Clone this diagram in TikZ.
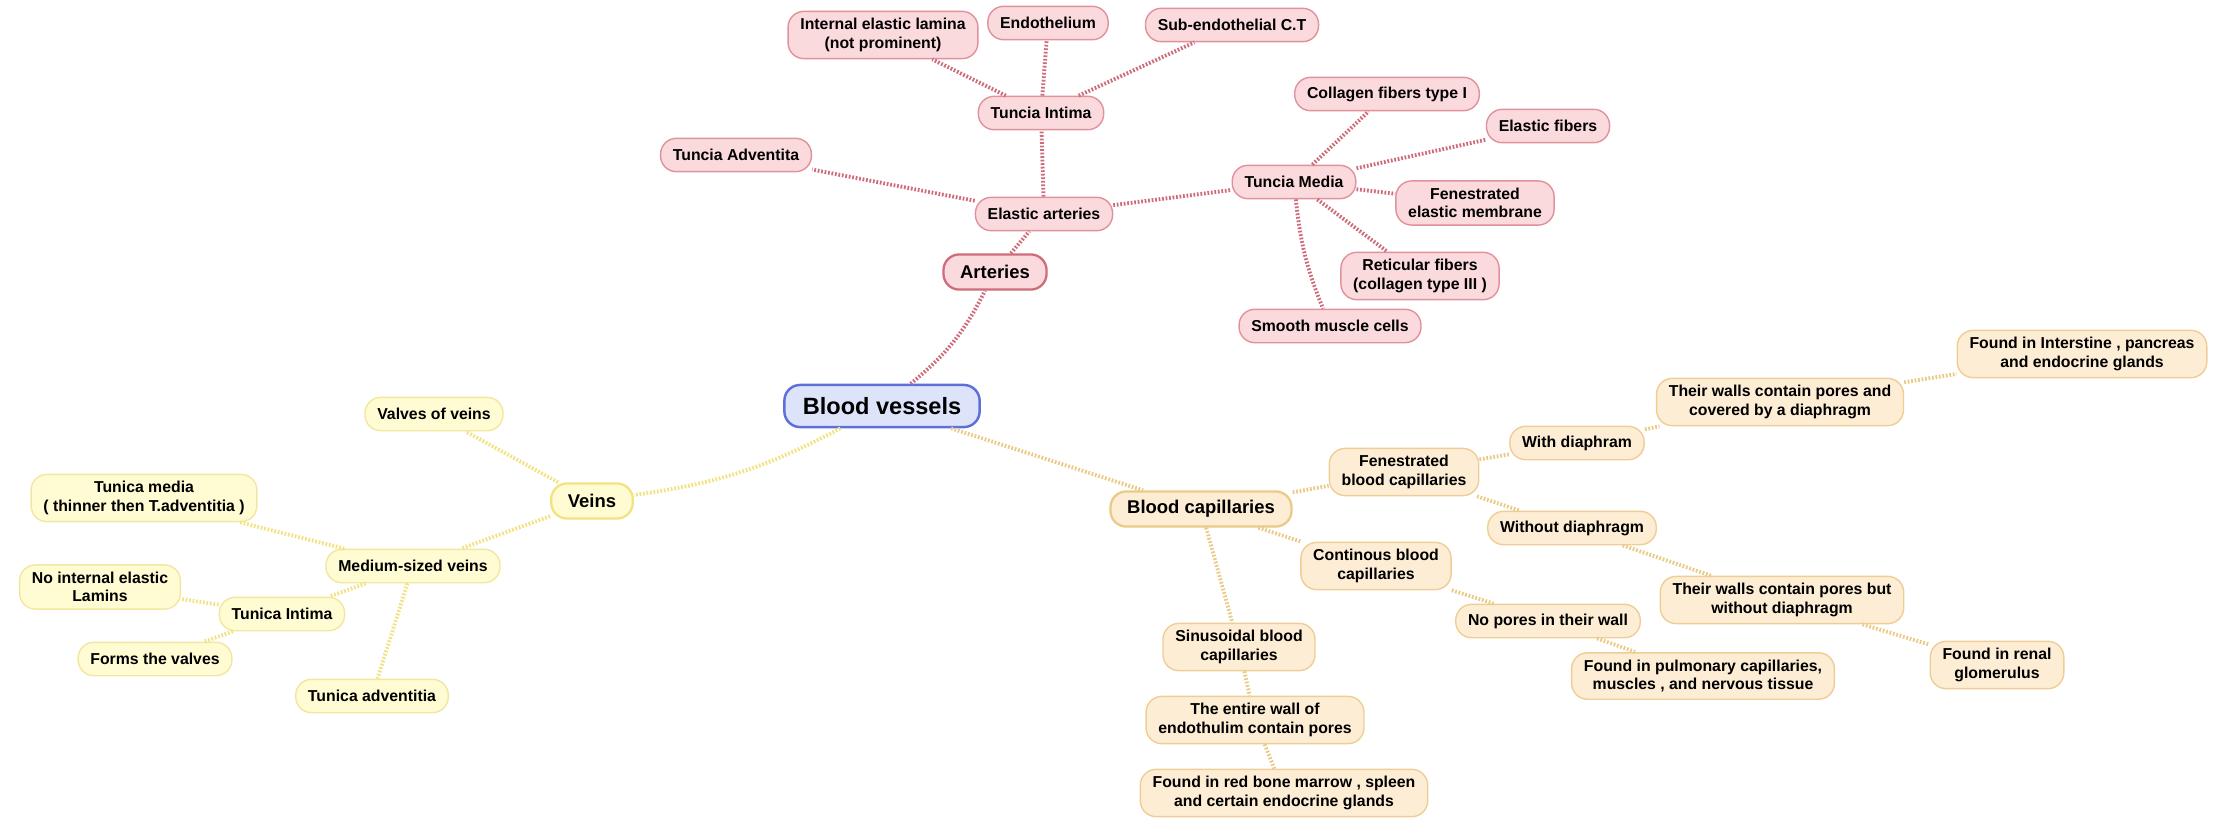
\documentclass[tikz,border=0pt]{standalone}
\usepackage{fontspec}
\setmainfont{Liberation Sans}
\definecolor{artfill}{RGB}{251,218,221}
\definecolor{artdraw}{RGB}{224,146,156}
\definecolor{artlink}{RGB}{206,108,122}
\definecolor{veinfill}{RGB}{255,251,210}
\definecolor{veindraw}{RGB}{242,231,160}
\definecolor{veinlink}{RGB}{242,226,130}
\definecolor{capfill}{RGB}{253,237,212}
\definecolor{capdraw}{RGB}{238,206,150}
\definecolor{caplink}{RGB}{234,202,135}
\definecolor{rootfill}{RGB}{221,228,250}
\definecolor{rootdraw}{RGB}{92,112,215}
\begin{document}
\begin{tikzpicture}[x=0.2mm,y=-0.2mm,
  box/.style={rounded corners=9pt, align=center, inner xsep=7pt, inner ysep=4pt,
    minimum height=19pt, line width=0.8pt,
    font=\fontsize{9}{10.5}\selectfont\bfseries},
  head/.style={box, line width=1.3pt, minimum height=20pt, inner xsep=9.5pt,
    font=\fontsize{10.5}{12}\selectfont\bfseries},
  link/.style={line width=2.2pt, dash pattern=on 1pt off 1pt}]

\useasboundingbox (0,0) rectangle (2213,819);

\node[box, draw=rootdraw, fill=rootfill, line width=1.4pt, minimum height=24pt,
  inner xsep=10.5pt, font=\fontsize{13.4}{15}\selectfont\bfseries] (root) at (882,406) {Blood vessels};

\begin{scope}[every node/.style={box, draw=artdraw, fill=artfill}]
\node[head, draw=artlink] (art) at (995,272) {Arteries};
\node (elastic) at (1044,214) {Elastic arteries};
\node (intima) at (1041,113) {Tuncia Intima};
\node (iel) at (883,35) {Internal elastic lamina\\(not prominent)};
\node (endo) at (1048,23) {Endothelium};
\node (subendo) at (1232,25) {Sub-endothelial C.T};
\node (adv) at (736,155) {Tuncia Adventita};
\node (media) at (1294,182) {Tuncia Media};
\node (coll) at (1387,94) {Collagen fibers type I};
\node (elfib) at (1548,126) {Elastic fibers};
\node (fen) at (1475,203) {Fenestrated\\elastic membrane};
\node (ret) at (1420,276) {Reticular fibers\\(collagen type III )};
\node (smc) at (1330,326) {Smooth muscle cells};
\end{scope}

\begin{scope}[every node/.style={box, draw=veindraw, fill=veinfill}]
\node[head, draw=veinlink] (veins) at (592,501) {Veins};
\node (valves) at (434,414) {Valves of veins};
\node (medvein) at (413,566) {Medium-sized veins};
\node (tmedia) at (144,498) {Tunica media\\( thinner then T.adventitia )};
\node (tintima) at (282,614) {Tunica Intima};
\node (noiel) at (100,587) {No internal elastic\\Lamins};
\node (forms) at (155,659) {Forms the valves};
\node (tadv) at (372,696) {Tunica adventitia};
\end{scope}

\begin{scope}[every node/.style={box, draw=capdraw, fill=capfill}]
\node[head, draw=caplink] (cap) at (1201,509) {Blood capillaries};
\node (fencap) at (1404,472) {Fenestrated\\blood capillaries};
\node (withd) at (1577,443) {With diaphram};
\node (pores) at (1780,402) {Their walls contain pores and\\covered by a diaphragm};
\node (intest) at (2082,354) {Found in Interstine , pancreas\\and endocrine glands};
\node (withoutd) at (1572,528) {Without diaphragm};
\node (poresno) at (1782,600) {Their walls contain pores but\\without diaphragm};
\node (renal) at (1997,665) {Found in renal\\glomerulus};
\node (cont) at (1376,566) {Continous blood\\capillaries};
\node (nopores) at (1548,621) {No pores in their wall};
\node (pulm) at (1703,676) {Found in pulmonary capillaries,\\muscles , and nervous tissue};
\node (sinus) at (1239,647) {Sinusoidal blood\\capillaries};
\node (entire) at (1255,720) {The entire wall of\\endothulim contain pores};
\node (redbone) at (1284,793) {Found in red bone marrow , spleen\\and certain endocrine glands};
\end{scope}

\draw[link, artlink] (root) to[bend right=12] (art);
\foreach \a/\b in {art/elastic, elastic/intima, intima/iel, intima/endo, intima/subendo,
  elastic/adv, elastic/media, media/coll, media/elfib, media/fen, media/ret}
  \draw[link, artlink] (\a) -- (\b);
\draw[link, artlink] (media) to[bend right=8] (smc);

\draw[link, veinlink] (root) to[bend left=10] (veins);
\foreach \a/\b in {veins/valves, veins/medvein, medvein/tmedia, medvein/tintima,
  medvein/tadv, tintima/noiel, tintima/forms}
  \draw[link, veinlink] (\a) -- (\b);

\foreach \a/\b in {root/cap, cap/fencap, fencap/withd, withd/pores, pores/intest,
  fencap/withoutd, withoutd/poresno, poresno/renal, cap/cont, cont/nopores,
  nopores/pulm, cap/sinus, sinus/entire, entire/redbone}
  \draw[link, caplink] (\a) -- (\b);

\end{tikzpicture}
\end{document}
